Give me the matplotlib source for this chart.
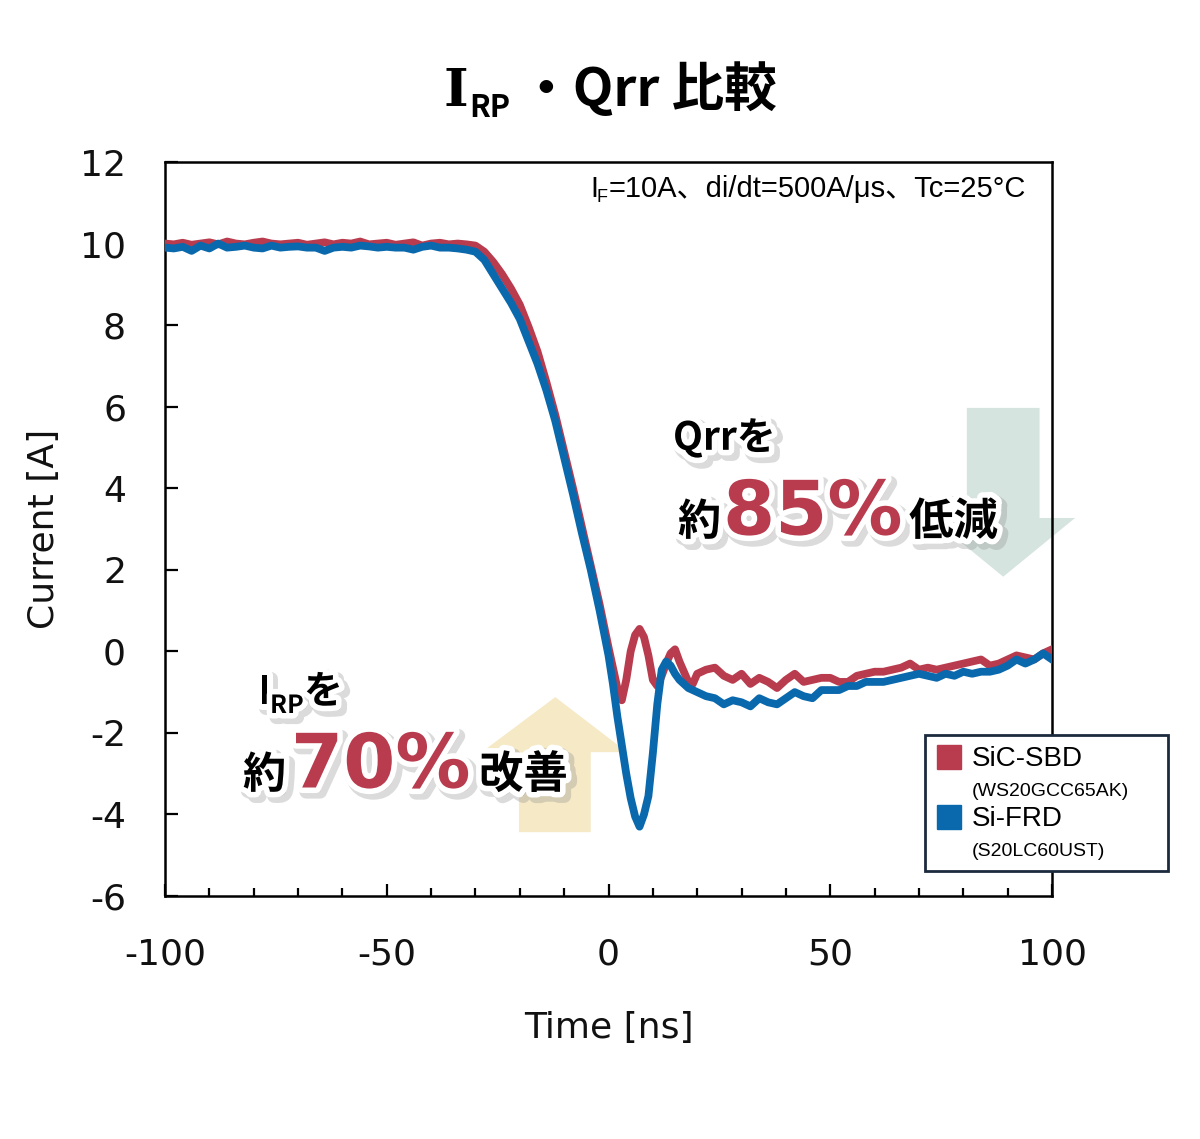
import numpy as np
import matplotlib.pyplot as plt
import matplotlib.patheffects as pe
from matplotlib.patches import Polygon
from matplotlib.lines import Line2D

plt.rcParams['axes.unicode_minus'] = False

# data (time in ns, current in A)
time_ns = [-100, -98, -96, -94, -92, -90, -88, -86, -84, -82, -80, -78, -76, -74, -72,
           -70, -68, -66, -64, -62, -60, -58, -56, -54, -52, -50, -48, -46, -44, -42,
           -40, -38, -36, -34, -32,
           -30, -28, -26, -24, -22, -20, -18, -16, -14, -12, -10, -8, -6, -4, -2, 0,
           1, 2, 3, 4, 5, 6, 7, 8, 9, 10, 11, 12, 13, 14, 15, 16, 17, 18, 19, 20,
           22, 24, 26, 28, 30, 32, 34, 36, 38, 40, 42, 44, 46, 48, 50, 52, 54, 56, 58, 60,
           62, 64, 66, 68, 70, 72, 74, 76, 78, 80, 82, 84, 86, 88, 90, 92, 94, 96, 98, 100]

sic_sbd = [10.0, 9.98, 10.02, 9.97, 10.0, 10.03, 9.98, 10.05, 10.0, 9.98, 10.02, 10.05, 10.0, 9.98, 10.0,
           10.02, 9.97, 10.0, 10.03, 9.98, 10.02, 10.0, 10.05, 9.98, 10.0, 10.02, 9.97, 10.0, 10.03, 9.95,
           10.0, 10.02, 9.98, 10.0, 9.98,
           9.95, 9.8, 9.55, 9.25, 8.9, 8.5, 7.95, 7.35, 6.6, 5.8, 4.9, 4.0, 3.05, 2.1, 1.15, 0.1,
           -0.4, -0.9, -1.2, -0.7, 0.0, 0.4, 0.55, 0.35, -0.1, -0.7, -0.85, -0.6, -0.3, -0.05, 0.05, -0.25, -0.5, -0.75, -0.8, -0.55,
           -0.45, -0.4, -0.6, -0.7, -0.55, -0.8, -0.65, -0.75, -0.9, -0.7, -0.55, -0.75, -0.7, -0.65, -0.65, -0.75, -0.75, -0.6, -0.55, -0.5,
           -0.5, -0.45, -0.4, -0.3, -0.45, -0.4, -0.45, -0.4, -0.35, -0.3, -0.25, -0.2, -0.35, -0.3, -0.2, -0.1, -0.15, -0.2, -0.05, 0.05]

si_frd = [9.9, 9.88, 9.92, 9.82, 9.95, 9.88, 10.0, 9.9, 9.92, 9.95, 9.9, 9.88, 9.95, 9.9, 9.92,
          9.93, 9.9, 9.9, 9.82, 9.9, 9.92, 9.9, 9.95, 9.93, 9.9, 9.92, 9.9, 9.9, 9.85, 9.92,
          9.95, 9.9, 9.9, 9.88, 9.85,
          9.8, 9.6, 9.25, 8.9, 8.55, 8.15, 7.6, 7.05, 6.4, 5.65, 4.75, 3.85, 2.9, 2.0, 1.0, -0.1,
          -0.8, -1.6, -2.3, -3.0, -3.6, -4.05, -4.3, -4.0, -3.55, -2.5, -1.3, -0.45, -0.25, -0.35, -0.55, -0.7, -0.8, -0.9, -0.95, -1.0,
          -1.1, -1.15, -1.3, -1.2, -1.25, -1.35, -1.15, -1.25, -1.3, -1.15, -1.0, -1.1, -1.15, -0.95, -0.95, -0.95, -0.85, -0.85, -0.75, -0.75,
          -0.75, -0.7, -0.65, -0.6, -0.55, -0.6, -0.65, -0.55, -0.6, -0.5, -0.55, -0.5, -0.5, -0.45, -0.35, -0.2, -0.3, -0.2, -0.05, -0.2]

x_ticks = [-100, -50, 0, 50, 100]
y_ticks = [-6, -4, -2, 0, 2, 4, 6, 8, 10, 12]
series_names = ["SiC-SBD", "Si-FRD"]
part_numbers = ["(WS20GCC65AK)", "(S20LC60UST)"]

RED = '#b83b4e'
BLUE = '#0a68ad'
JP = 'Noto Sans CJK JP'

fig = plt.figure(figsize=(12, 11.39), dpi=100)
ax = fig.add_axes([165/1200, 1-896/1139, 887/1200, 734/1139])

ax.plot(time_ns, sic_sbd, color=RED, lw=5.6, solid_joinstyle='round', zorder=3)
ax.plot(time_ns, si_frd, color=BLUE, lw=5.6, solid_joinstyle='round', zorder=4)

ax.set_xlim(-100, 100)
ax.set_ylim(-6, 12)
ax.set_xticks(x_ticks)
ax.set_xticks(np.arange(-100, 101, 10), minor=True)
ax.set_yticks(y_ticks)
ax.tick_params(which='both', direction='in', width=1.6, labelsize=26, labelcolor='#111111')
ax.tick_params(axis='x', which='major', length=9, pad=30)
ax.tick_params(axis='x', which='minor', length=6)
ax.tick_params(axis='y', which='major', length=9, pad=28)
for s in ax.spines.values():
    s.set_linewidth(1.8)

ax.set_xlabel("Time [ns]", fontsize=26, labelpad=28, color='#111111')
ax.set_ylabel("Current [A]", fontsize=26, labelpad=14, color='#111111')

# background arrows (axes fraction)
down = Polygon([(0.904, 0.665), (0.986, 0.665), (0.986, 0.515), (1.026, 0.515),
                (0.945, 0.435), (0.864, 0.515), (0.904, 0.515)],
               closed=True, transform=ax.transAxes, facecolor='#d6e4e0', edgecolor='none',
               clip_on=False, zorder=1)
up = Polygon([(0.399, 0.087), (0.480, 0.087), (0.480, 0.196), (0.521, 0.196),
              (0.440, 0.271), (0.357, 0.196), (0.399, 0.196)],
             closed=True, transform=ax.transAxes, facecolor='#f6e9c6', edgecolor='none',
             clip_on=False, zorder=1)
ax.add_patch(down)
ax.add_patch(up)

# legend
handles = [Line2D([], [], marker='s', ls='none', color=RED, markersize=17),
           Line2D([], [], ls='none'),
           Line2D([], [], marker='s', ls='none', color=BLUE, markersize=17),
           Line2D([], [], ls='none')]
labels = [series_names[0], part_numbers[0], series_names[1], part_numbers[1]]
leg = ax.legend(handles, labels, loc='upper left',
                bbox_to_anchor=(925/1200, 1-880/1139, 243/1200, 145/1139),
                bbox_transform=fig.transFigure, mode='expand', fancybox=False,
                framealpha=1, edgecolor='#1c2a3d', handlelength=0.9, handletextpad=0.4,
                handleheight=0.5, borderpad=0.4, labelspacing=0.22, borderaxespad=0,
                prop={'family': 'Liberation Sans', 'size': 20})
leg.get_frame().set_linewidth(2)
leg.get_texts()[1].set_fontsize(14)
leg.get_texts()[3].set_fontsize(14)
leg.set_zorder(10)


def fx(px):
    return px / 1200


def fy(py):
    return 1 - py / 1139


# title
fig.text(fx(443), fy(92), "I", fontsize=38, fontweight='bold', family='DejaVu Serif', va='center')
fig.text(fx(469), fy(108), "RP", fontsize=22, fontweight='bold', family=JP, va='center')
fig.text(fx(520), fy(90), "・Qrr 比較", fontsize=38, fontweight='bold', family=JP, va='center')

# test condition
fig.text(fx(590), fy(189), "I", fontsize=21, family='Liberation Sans', va='center')
fig.text(fx(597), fy(197), "F", fontsize=13, family='Liberation Sans', va='center')
fig.text(fx(609), fy(189), "=10A、di/dt=500A/μs、Tc=25°C", fontsize=21,
         family=['Liberation Sans', JP], va='center')

# callouts
fx_eff = [pe.Stroke(linewidth=10, foreground='#888888', alpha=0.3, offset=(3, -3)),
          pe.Stroke(linewidth=8, foreground='white'), pe.Normal()]

fig.text(fx(673), fy(438), "Qrrを", fontsize=28, fontweight='bold', family=JP,
         va='center', path_effects=fx_eff, zorder=20)
fig.text(fx(678), fy(522), "約", fontsize=31, fontweight='bold', family=JP,
         va='center', path_effects=fx_eff, zorder=20)
fig.text(fx(723), fy(514), "85%", fontsize=54, fontweight='bold', family='DejaVu Sans',
         color=RED, va='center', path_effects=fx_eff, zorder=20)
fig.text(fx(909), fy(522), "低減", fontsize=32, fontweight='bold', family=JP,
         va='center', path_effects=fx_eff, zorder=20)

fig.text(fx(258), fy(692), "I", fontsize=28, fontweight='bold', family=JP,
         va='center', path_effects=fx_eff, zorder=20)
fig.text(fx(270), fy(706), "RP", fontsize=18, fontweight='bold', family=JP,
         va='center', path_effects=fx_eff, zorder=20)
fig.text(fx(304), fy(692), "を", fontsize=28, fontweight='bold', family=JP,
         va='center', path_effects=fx_eff, zorder=20)
fig.text(fx(243), fy(775), "約", fontsize=31, fontweight='bold', family=JP,
         va='center', path_effects=fx_eff, zorder=20)
fig.text(fx(291), fy(767), "70%", fontsize=54, fontweight='bold', family='DejaVu Sans',
         color=RED, va='center', path_effects=fx_eff, zorder=20)
fig.text(fx(479), fy(775), "改善", fontsize=32, fontweight='bold', family=JP,
         va='center', path_effects=fx_eff, zorder=20)

fig.savefig("out.png", dpi=100)
